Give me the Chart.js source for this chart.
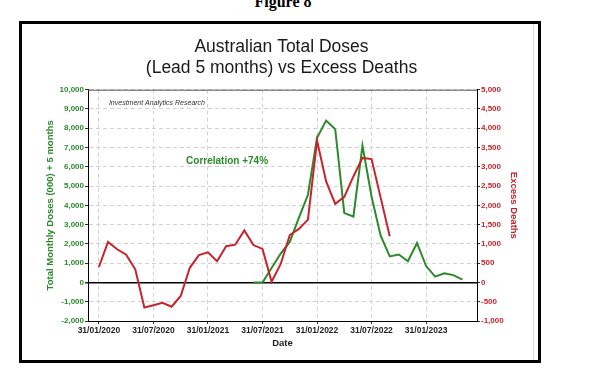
<!DOCTYPE html>
<html>
<head>
<meta charset="utf-8">
<script src="https://cdn.jsdelivr.net/npm/chart.js@4.4.1/dist/chart.umd.min.js"></script>
<style>
html, body { margin: 0; padding: 0; background: #fff; width: 603px; height: 387px; overflow: hidden; }
#fig { position: absolute; left: 0; top: -7px; width: 566px; text-align: center; line-height: 16px;
       font: bold 16px 'Liberation Serif', 'Times New Roman', serif; color: #000; }
#box { position: absolute; left: 19px; top: 21px; width: 522px; height: 342px; box-sizing: border-box; border: 3px solid #000; }
#edge { position: absolute; left: 533px; top: 24px; width: 1px; height: 336px; background: #d8d8d8; }
#graph { position: absolute; left: 0; top: 0; }
</style>
</head>
<body>
<div id="fig">Figure 8</div>
<div id="box"></div>
<div id="edge"></div>
<canvas id="graph" width="603" height="387"></canvas>
<script>
// Months, Jan 2020 = 0
var months = [
    'Jan-20', 'Feb-20', 'Mar-20', 'Apr-20', 'May-20', 'Jun-20', 'Jul-20', 'Aug-20', 'Sep-20', 'Oct-20', 'Nov-20', 'Dec-20',
    'Jan-21', 'Feb-21', 'Mar-21', 'Apr-21', 'May-21', 'Jun-21', 'Jul-21', 'Aug-21', 'Sep-21', 'Oct-21', 'Nov-21', 'Dec-21',
    'Jan-22', 'Feb-22', 'Mar-22', 'Apr-22', 'May-22', 'Jun-22', 'Jul-22', 'Aug-22', 'Sep-22', 'Oct-22', 'Nov-22', 'Dec-22',
    'Jan-23', 'Feb-23', 'Mar-23', 'Apr-23', 'May-23'
];

// Excess deaths (right axis)
var excessDeaths = [
    400, 1050, 860, 720, 340, -650, -590, -530, -630, -350, 380, 710,
    780, 550, 940, 980, 1350, 970, 870, 20, 480, 1230, 1390, 1630,
    3680, 2620, 2040, 2220, 2750, 3230, 3200, 2200, 1200, null, null, null,
    null, null, null, null, null
];

// Total monthly doses (000), led 5 months (left axis)
var doses = [
    null, null, null, null, null, null, null, null, null, null, null, null,
    null, null, null, null, null, 0, 0, 750, 1500, 2100, 3350, 4550,
    7500, 8400, 7950, 3600, 3420, 7100, 4450, 2430, 1350, 1450, 1100, 2050,
    850, 300, 470, 380, 150
];

var xTickMonths = [0, 6, 12, 18, 24, 30, 36];
var xTickLabels = ['31/01/2020', '31/07/2020', '31/01/2021', '31/07/2021', '31/01/2022', '31/07/2022', '31/01/2023'];

var green = '#2b8a2b';
var red = '#c8232b';
var gridGrey = '#d2d2d2';
var font = "'Liberation Sans', Arial, sans-serif";

function toPoints(values) {
    return months.map(function (m, i) { return { x: i, y: values[i] }; });
}

// frame on top of the plot + the two notes
var extras = {
    id: 'extras',
    afterDatasetsDraw: function (chart) {
        var ctx = chart.ctx, a = chart.chartArea;
        var x = chart.scales.x, y = chart.scales.y;
        ctx.save();
        ctx.strokeStyle = '#555';
        ctx.lineWidth = 1;
        ctx.beginPath();
        ctx.moveTo(a.left, a.top + 0.5);
        ctx.lineTo(a.right, a.top + 0.5);
        ctx.stroke();

        ctx.fillStyle = '#333';
        ctx.font = 'italic 7px ' + font;
        ctx.textAlign = 'left';
        ctx.textBaseline = 'middle';
        ctx.fillText('Investment Analytics Research', x.getPixelForValue(1.1), y.getPixelForValue(9300));

        ctx.fillStyle = green;
        ctx.font = 'bold 10px ' + font;
        ctx.textAlign = 'center';
        ctx.fillText('Correlation +74%', x.getPixelForValue(14.1), y.getPixelForValue(6280));
        ctx.restore();
    }
};

var canvas = document.getElementById('graph');

var chart = new Chart(canvas, {
    type: 'line',
    data: {
        datasets: [{
            label: 'Excess Deaths',
            data: toPoints(excessDeaths),
            yAxisID: 'y1',
            borderColor: red,
            borderWidth: 2,
            pointRadius: 0,
            tension: 0
        }, {
            label: 'Total Monthly Doses (000) + 5 months',
            data: toPoints(doses),
            yAxisID: 'y',
            borderColor: green,
            borderWidth: 2,
            pointRadius: 0,
            tension: 0
        }]
    },
    options: {
        responsive: false,
        animation: false,
        devicePixelRatio: 1,
        layout: { padding: { left: 40, right: 80, top: 0, bottom: 34 } },
        plugins: {
            legend: { display: false },
            tooltip: { enabled: false },
            title: {
                display: true,
                text: ['Australian Total Doses', '(Lead 5 months) vs Excess Deaths'],
                color: '#1a1a1a',
                font: { family: font, size: 17.5, weight: 'normal', lineHeight: 1.22 },
                padding: { top: 36, bottom: 11 }
            }
        },
        scales: {
            x: {
                type: 'linear',
                min: -1.2,
                max: 41.6,
                afterBuildTicks: function (s) {
                    s.ticks = xTickMonths.map(function (v) { return { value: v }; });
                },
                afterFit: function (s) { s.height = 32; },
                ticks: {
                    color: '#222',
                    font: { family: font, size: 8.5, weight: 'bold' },
                    maxRotation: 0,
                    padding: 2,
                    callback: function (v) {
                        var i = xTickMonths.indexOf(v);
                        return i >= 0 ? xTickLabels[i] : '';
                    }
                },
                grid: { color: gridGrey, tickColor: '#333', tickLength: 3 },
                border: { color: '#000', width: 1, dash: [4, 3] },
                title: {
                    display: true,
                    text: 'Date',
                    color: '#222',
                    font: { family: font, size: 9.5, weight: 'bold' },
                    padding: { top: 2, bottom: 4 }
                }
            },
            y: {
                position: 'left',
                min: -2000,
                max: 10000,
                afterFit: function (s) { s.width = 48; },
                ticks: {
                    stepSize: 1000,
                    color: green,
                    padding: 1,
                    font: { family: font, size: 8, weight: 'bold' },
                    callback: function (v) { return v.toLocaleString('en-US'); }
                },
                grid: {
                    color: function (c) { return c.tick && c.tick.value === 0 ? '#000' : gridGrey; },
                    lineWidth: function (c) { return c.tick && c.tick.value === 0 ? 1.6 : 1; },
                    tickColor: '#333',
                    tickLength: 3
                },
                border: {
                    color: '#000',
                    width: 1,
                    dash: function (c) { return c.tick && c.tick.value === 0 ? [] : [4, 3]; }
                },
                title: {
                    display: true,
                    text: 'Total Monthly Doses (000) + 5 months',
                    color: green,
                    font: { family: font, size: 9.5, weight: 'bold' },
                    padding: { top: 5, bottom: 4 }
                }
            },
            y1: {
                position: 'right',
                min: -1000,
                max: 5000,
                afterFit: function (s) { s.width = 46; },
                ticks: {
                    stepSize: 500,
                    color: red,
                    padding: 1,
                    font: { family: font, size: 8, weight: 'bold' },
                    callback: function (v) { return v.toLocaleString('en-US'); }
                },
                grid: { drawOnChartArea: false, tickColor: '#333', tickLength: 3 },
                border: { color: '#000', width: 1 },
                title: {
                    display: true,
                    text: 'Excess Deaths',
                    color: red,
                    font: { family: font, size: 9.5, weight: 'bold' },
                    padding: { top: 4, bottom: 4 }
                }
            }
        }
    },
    plugins: [extras]
});
</script>
</body>
</html>
